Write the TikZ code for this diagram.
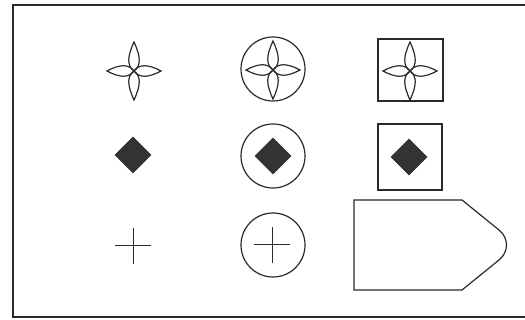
\documentclass[tikz,border=0pt]{standalone}
\usetikzlibrary{calc}
\definecolor{ink}{HTML}{2A2A2A}
\definecolor{fillgray}{HTML}{333333}
\tikzset{
  line/.style={draw=ink, line width=1.2pt},
  frame/.style={draw=ink, line width=1.6pt},
  petal/.pic={
    \draw[line] (0,0) .. controls (5,7) and (14,7) .. (#1,0) .. controls (14,-7) and (5,-7) .. (0,0);
  },
  fourstar/.pic={
    \pic[rotate=0] {petal=27};
    \pic[rotate=90] {petal=29};
    \pic[rotate=180] {petal=27};
    \pic[rotate=270] {petal=29};
  },
  gem/.style={fill=fillgray, draw=fillgray, line width=0.5pt},
  plus/.pic={
    \draw[line, line width=1pt] (-18,0) -- (18,0) (0,-18) -- (0,18);
  }
}
\begin{document}
\begin{tikzpicture}[x=1pt,y=-1pt]
\useasboundingbox (0,0) rectangle (525,320);
% frame
\draw[frame] (530,5) -- (13,5) -- (13,317) -- (530,317);
% row 1
\pic at (134,71) {fourstar};
\draw[line] (273,69) circle (32);
\pic at (273,70) {fourstar};
\draw[line] (378,39) rectangle (443,101);
\pic at (410,71) {fourstar};
% row 2
\draw[gem] (133,137) -- (151,155) -- (133,173) -- (115,155) -- cycle;
\draw[line] (273,156) circle (32);
\draw[gem] (273,138) -- (291,156) -- (273,174) -- (255,156) -- cycle;
\draw[line] (378,124) rectangle (442,190);
\draw[gem] (409,139) -- (427,157) -- (409,175) -- (391,157) -- cycle;
% row 3
\pic at (133,246) {plus};
\draw[line] (273,245) circle (32);
\pic at (272,245) {plus};
\draw[line] (354,200) -- (462,200) -- (499,230) .. controls (509,238) and (509,252) .. (499,260) -- (462,290) -- (354,290) -- cycle;
\end{tikzpicture}
\end{document}
